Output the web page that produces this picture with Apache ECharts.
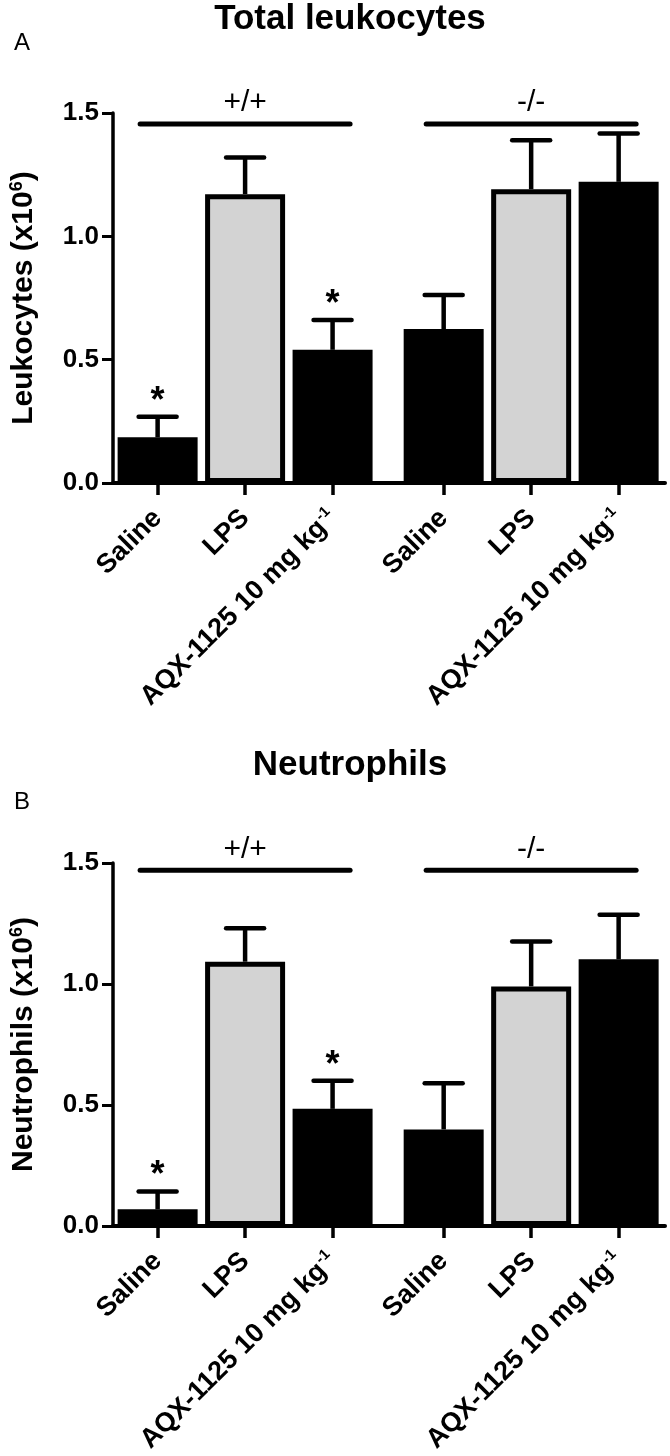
<!DOCTYPE html>
<html><head><meta charset="utf-8">
<script src="https://cdn.jsdelivr.net/npm/echarts@6/dist/echarts.min.js"></script>
<style>html,body{margin:0;padding:0;background:#fff}#c{width:670px;height:1456px}</style>
</head><body><div id="c"></div>
<script>
// ---- data ----
const categories = ['Saline', 'LPS', 'AQX-1125 10 mg kg^-1', 'Saline', 'LPS', 'AQX-1125 10 mg kg^-1'];
const genotypes = ['+/+', '-/-'];
const genotypeOfBar = [0, 0, 0, 1, 1, 1];
const leukoMean = [0.185, 1.171, 0.540, 0.624, 1.191, 1.221];
const leukoSem  = [0.084, 0.149, 0.121, 0.138, 0.199, 0.196];
const leukoStar = [1, 0, 1, 0, 0, 0];
const neutroMean = [0.069, 1.092, 0.484, 0.399, 0.990, 1.102];
const neutroSem  = [0.074, 0.138, 0.116, 0.191, 0.186, 0.184];
const neutroStar = [1, 0, 1, 0, 0, 0];
const yTicks = [0, 0.5, 1.0, 1.5];

// ---- layout ----
const FONT = '"Liberation Sans", Arial, Helvetica, sans-serif';
const groupGap = 0.27;
const xPos = i => i + genotypeOfBar[i] * groupGap;
const positions = categories.map((c, i) => xPos(i));
const isLPS = i => categories[i] === 'LPS';

const panels = [
  {title: 'Total leukocytes', letter: 'A', yName: 'Leukocytes', mean: leukoMean, sem: leukoSem, star: leukoStar,
   top: 113, height: 370, bracketY: 1.455, titleY: 19, letterY: 43},
  {title: 'Neutrophils', letter: 'B', yName: 'Neutrophils', mean: neutroMean, sem: neutroSem, star: neutroStar,
   top: 863, height: 367, bracketY: 1.47, titleY: 765, letterY: 802}
];

function fmtCat(v) {
  const i = positions.findIndex(p => Math.abs(p - v) < 1e-6);
  if (i < 0) return '';
  const parts = categories[i].split('^');
  return parts.length > 1 ? '{b|' + parts[0] + '}{s|' + parts[1] + '}' : '{b|' + parts[0] + '}';
}

const grids = [], xAxes = [], yAxes = [], series = [], graphics = [];
panels.forEach((p, pi) => {
  grids.push({left: 108, right: 5, top: p.top, height: p.height});
  xAxes.push({
    type: 'value', gridIndex: pi, min: -0.51, max: 5.8,
    splitLine: {show: false},
    axisLine: {show: true, onZero: false, lineStyle: {color: '#000', width: 4}},
    axisTick: {show: true, customValues: positions, length: 12, lineStyle: {color: '#000', width: 3.5}},
    axisLabel: {
      customValues: positions, rotate: 45, margin: 31, formatter: fmtCat,
      rich: {
        b: {fontSize: 27, fontWeight: 'bold', fontFamily: FONT, color: '#000'},
        s: {fontSize: 15, fontWeight: 'bold', fontFamily: FONT, color: '#000', verticalAlign: 'top', padding: [0, 0, 14, 1]}
      }
    }
  });
  yAxes.push({
    type: 'value', gridIndex: pi, min: 0, max: 1.5, interval: 0.5,
    splitLine: {show: false},
    axisLine: {show: true, onZero: false, lineStyle: {color: '#000', width: 3.5}},
    axisTick: {show: true, length: 11, lineStyle: {color: '#000', width: 3}},
    axisLabel: {formatter: v => v.toFixed(1), fontSize: 26, fontWeight: 'bold', fontFamily: FONT, color: '#000', margin: 14},
    name: '{b|' + p.yName + ' (x10}{s|6}{b|)}', nameLocation: 'middle', nameGap: 74,
    nameTextStyle: {
      rich: {
        b: {fontSize: 30, fontWeight: 'bold', fontFamily: FONT, color: '#000'},
        s: {fontSize: 18, fontWeight: 'bold', fontFamily: FONT, color: '#000', verticalAlign: 'top', padding: [0, 0, 13, 0]}
      }
    }
  });
  series.push({
    type: 'bar', xAxisIndex: pi, yAxisIndex: pi, barWidth: 80, z: 2,
    data: p.mean.map((v, i) => ({value: [xPos(i), v], itemStyle: {color: isLPS(i) ? '#d3d3d3' : '#000', borderColor: '#000', borderWidth: 5}}))
  });
  series.push({
    type: 'custom', xAxisIndex: pi, yAxisIndex: pi, z: 3,
    encode: {x: 0, y: 1},
    data: p.mean.map((v, i) => [xPos(i), v, p.sem[i], p.star[i]]),
    renderItem: (params, api) => {
      const x = api.value(0), m = api.value(1), s = api.value(2), st = api.value(3);
      const b = api.coord([x, m]), t = api.coord([x, m + s]);
      const ch = [
        {type: 'line', shape: {x1: b[0], y1: b[1], x2: t[0], y2: t[1]}, style: {stroke: '#000', lineWidth: 4.5}},
        {type: 'line', shape: {x1: t[0] - 19, y1: t[1], x2: t[0] + 19, y2: t[1]}, style: {stroke: '#000', lineWidth: 4.5, lineCap: 'round'}}
      ];
      if (st) ch.push({type: 'text', style: {text: '*', x: t[0], y: t[1] - 15, align: 'center', verticalAlign: 'middle', font: 'bold 36px ' + FONT, fill: '#000'}});
      return {type: 'group', children: ch};
    }
  });
  series.push({
    type: 'custom', xAxisIndex: pi, yAxisIndex: pi, z: 3,
    encode: {x: 0, y: 2},
    data: genotypes.map((g, gi) => {
      const idx = genotypeOfBar.map((v, i) => v === gi ? i : -1).filter(i => i >= 0);
      return [xPos(idx[0]) - 0.2, xPos(idx[idx.length - 1]) + 0.2, p.bracketY];
    }),
    renderItem: (params, api) => {
      const a = api.coord([api.value(0), api.value(2)]), c = api.coord([api.value(1), api.value(2)]);
      return {type: 'group', children: [
        {type: 'line', shape: {x1: a[0], y1: a[1], x2: c[0], y2: c[1]}, style: {stroke: '#000', lineWidth: 5, lineCap: 'round'}},
        {type: 'text', style: {text: genotypes[params.dataIndex], x: (a[0] + c[0]) / 2, y: a[1] - 21, align: 'center', verticalAlign: 'middle', font: '30px ' + FONT, fill: '#000'}}
      ]};
    }
  });
  graphics.push({type: 'text', x: 350, y: p.titleY, style: {text: p.title, font: 'bold 35px ' + FONT, fill: '#000', align: 'center', verticalAlign: 'middle'}});
  graphics.push({type: 'text', x: 14, y: p.letterY, style: {text: p.letter, font: '24px ' + FONT, fill: '#000', align: 'left', verticalAlign: 'middle'}});
});

const chart = echarts.init(document.getElementById('c'), null, {renderer: 'canvas'});
chart.setOption({
  animation: false,
  backgroundColor: '#fff',
  grid: grids, xAxis: xAxes, yAxis: yAxes, series: series, graphic: graphics
});
</script></body></html>
